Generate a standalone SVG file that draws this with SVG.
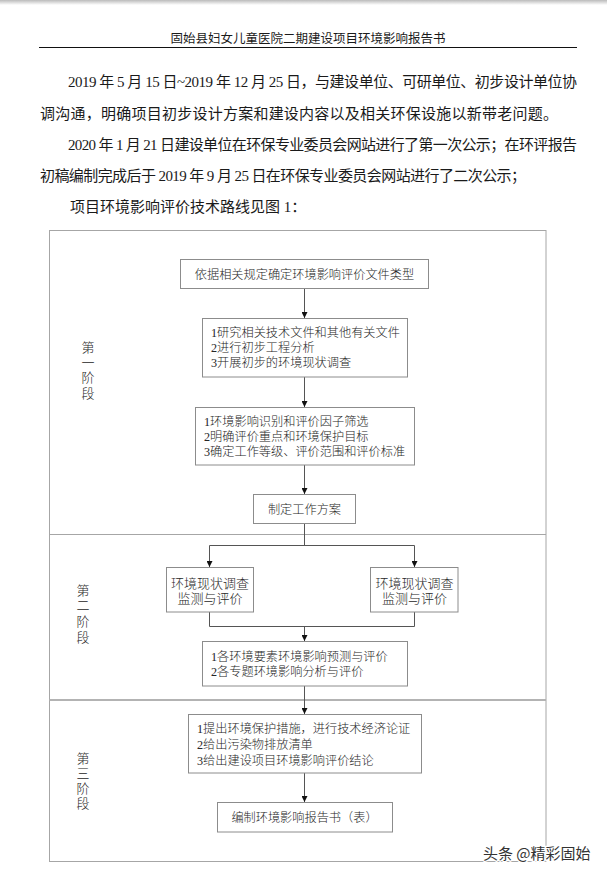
<svg xmlns="http://www.w3.org/2000/svg" width="607" height="874" viewBox="0 0 607 874">
<style>
.body{font-family:"Liberation Serif","Noto Sans CJK SC",serif;font-size:15px;fill:#1a1a1a}
.hdr{font-family:"Liberation Serif","Noto Sans CJK SC",serif;font-size:12.5px;fill:#1a1a1a}
.t{font-family:"Liberation Serif","Noto Sans CJK SC",serif;font-size:12.2px;fill:#262626;font-weight:300}
.tc{font-family:"Liberation Serif","Noto Sans CJK SC",serif;font-size:12.2px;fill:#262626;font-weight:300;text-anchor:middle}
.t13{font-family:"Liberation Serif","Noto Sans CJK SC",serif;font-size:13px;fill:#262626;font-weight:300;text-anchor:middle}
.stage{font-family:"Liberation Serif","Noto Sans CJK SC",serif;font-size:13px;fill:#262626;font-weight:300;text-anchor:middle}
.box{fill:#fff;stroke:#8c8c8c;stroke-width:1}
.frame{fill:none;stroke:#a6a6a6;stroke-width:1}
.conn{fill:none;stroke:#555;stroke-width:1}
.wm{font-family:"Noto Sans CJK SC",sans-serif;font-size:15px;fill:#333;stroke:#fff;stroke-width:2.5;paint-order:stroke}
</style>
<defs>
<linearGradient id="topshade" x1="0" y1="0" x2="0" y2="1">
<stop offset="0" stop-color="#bbb"/>
<stop offset="1" stop-color="#fff"/>
</linearGradient>
<marker id="arr" viewBox="0 0 6 6" refX="6" refY="3" markerWidth="6" markerHeight="6" markerUnits="userSpaceOnUse" orient="auto">
<path d="M0,0 L6,3 L0,6 Z" fill="#111"/>
</marker>
</defs>
<rect x="0" y="0" width="607" height="874" fill="#fff"/>
<rect x="0" y="0" width="607" height="5" fill="url(#topshade)"/>

<g id="header">
<text class="hdr" x="308" y="42.5" text-anchor="middle">固始县妇女儿童医院二期建设项目环境影响报告书</text>
<line x1="39" y1="47.5" x2="577" y2="47.5" stroke="#111" stroke-width="1.2"/>
</g>

<g id="paragraphs">
<text class="body" x="68" y="87" textLength="509" lengthAdjust="spacing">2019 年 5 月 15 日~2019 年 12 月 25 日，与建设单位、可研单位、初步设计单位协</text>
<text class="body" x="40" y="118.5" textLength="518" lengthAdjust="spacing">调沟通，明确项目初步设计方案和建设内容以及相关环保设施以新带老问题。</text>
<text class="body" x="68" y="150" textLength="509" lengthAdjust="spacing">2020 年 1 月 21 日建设单位在环保专业委员会网站进行了第一次公示；在环评报告</text>
<text class="body" x="40" y="180.5" textLength="486" lengthAdjust="spacing">初稿编制完成后于 2019 年 9 月 25 日在环保专业委员会网站进行了二次公示；</text>
<text class="body" x="70" y="212">项目环境影响评价技术路线见图 1：</text>
</g>

<g id="frame">
<rect class="frame" x="49.5" y="230.5" width="496.5" height="631"/>
<line class="frame" x1="49.5" y1="534.5" x2="546" y2="534.5"/>
<line x1="49.5" y1="700" x2="546" y2="700" stroke="#b3b3b3" stroke-width="2"/>
</g>

<g id="stage1">
<text class="stage" x="88" y="352">第</text>
<text class="stage" x="88" y="367">一</text>
<text class="stage" x="88" y="382">阶</text>
<text class="stage" x="88" y="398">段</text>
</g>
<g id="stage2">
<text class="stage" x="83" y="595">第</text>
<text class="stage" x="83" y="610">二</text>
<text class="stage" x="83" y="626">阶</text>
<text class="stage" x="83" y="642">段</text>
</g>
<g id="stage3">
<text class="stage" x="83" y="763">第</text>
<text class="stage" x="83" y="778">三</text>
<text class="stage" x="83" y="793">阶</text>
<text class="stage" x="83" y="808">段</text>
</g>

<g id="connectors">
<line class="conn" x1="304.5" y1="289" x2="304.5" y2="318" marker-end="url(#arr)"/>
<line class="conn" x1="304.5" y1="377" x2="304.5" y2="407" marker-end="url(#arr)"/>
<line class="conn" x1="304.5" y1="465" x2="304.5" y2="494" marker-end="url(#arr)"/>
<polyline class="conn" points="304.5,523 304.5,545.5"/>
<polyline class="conn" points="209.5,567 209.5,545.5 414.5,545.5 414.5,567"/>
<line class="conn" x1="209.5" y1="550" x2="209.5" y2="567" marker-end="url(#arr)"/>
<line class="conn" x1="414.5" y1="550" x2="414.5" y2="567" marker-end="url(#arr)"/>
<polyline class="conn" points="209.5,612 209.5,626.5 414.5,626.5 414.5,612"/>
<line class="conn" x1="304.5" y1="626.5" x2="304.5" y2="641" marker-end="url(#arr)"/>
<line class="conn" x1="304.5" y1="686" x2="304.5" y2="714" marker-end="url(#arr)"/>
<line class="conn" x1="304.5" y1="773" x2="304.5" y2="802" marker-end="url(#arr)"/>
</g>

<g id="node1">
<rect class="box" x="180.5" y="259.5" width="248" height="29"/>
<text class="tc" x="304.5" y="278.5">依据相关规定确定环境影响评价文件类型</text>
</g>
<g id="node2">
<rect class="box" x="202.5" y="318.5" width="205" height="58.5"/>
<text class="t" x="211" y="336.5">1研究相关技术文件和其他有关文件</text>
<text class="t" x="211" y="351.5">2进行初步工程分析</text>
<text class="t" x="211" y="366.5">3开展初步的环境现状调查</text>
</g>
<g id="node3">
<rect class="box" x="195.5" y="407.5" width="219" height="57.5"/>
<text class="t" x="204" y="425.5">1环境影响识别和评价因子筛选</text>
<text class="t" x="204" y="440.5">2明确评价重点和环境保护目标</text>
<text class="t" x="204" y="455.5">3确定工作等级、评价范围和评价标准</text>
</g>
<g id="node4">
<rect class="box" x="253.5" y="494.5" width="102" height="29"/>
<text class="tc" x="304.5" y="513.5">制定工作方案</text>
</g>
<g id="node5">
<rect class="box" x="166.5" y="567.5" width="87" height="44.5"/>
<text class="t13" x="210" y="587.5">环境现状调查</text>
<text class="t13" x="210" y="603">监测与评价</text>
</g>
<g id="node6">
<rect class="box" x="370.5" y="567.5" width="87.5" height="44.5"/>
<text class="t13" x="414.5" y="587.5">环境现状调查</text>
<text class="t13" x="414.5" y="603">监测与评价</text>
</g>
<g id="node7">
<rect class="box" x="202.5" y="641.5" width="205" height="44.5"/>
<text class="t" x="211" y="660.5">1各环境要素环境影响预测与评价</text>
<text class="t" x="211" y="676">2各专题环境影响分析与评价</text>
</g>
<g id="node8">
<rect class="box" x="188.5" y="714.5" width="233" height="58.5"/>
<text class="t" x="197" y="732.5">1提出环境保护措施，进行技术经济论证</text>
<text class="t" x="197" y="748.5">2给出污染物排放清单</text>
<text class="t" x="197" y="765">3给出建设项目环境影响评价结论</text>
</g>
<g id="node9">
<rect class="box" x="217.5" y="802.5" width="175" height="29.5"/>
<text class="tc" x="304.5" y="821.5">编制环境影响报告书（表）</text>
</g>

<g id="watermark">
<text class="wm" x="483" y="858.5">头条 @精彩固始</text>
</g>
</svg>
